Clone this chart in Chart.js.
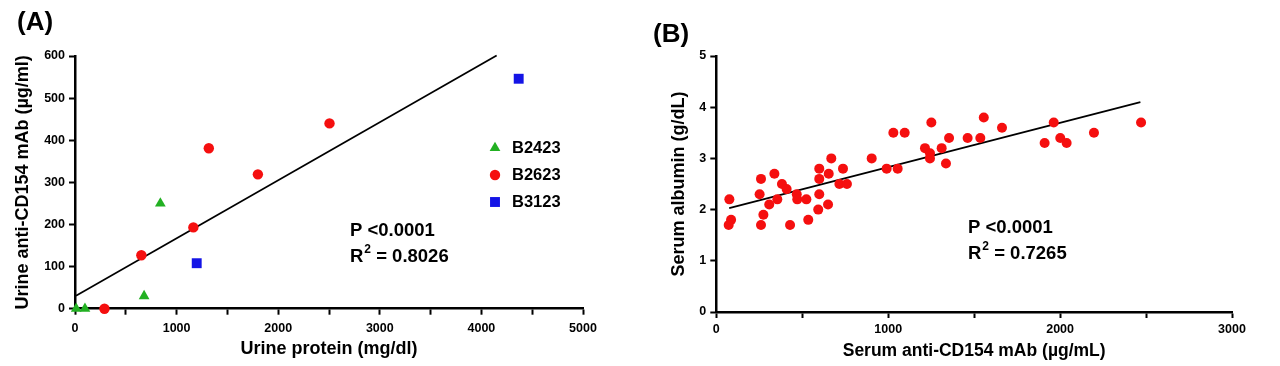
<!DOCTYPE html>
<html lang="en">
<head>
<meta charset="UTF-8">
<title>anti-CD154 scatter</title>
<script src="https://cdn.jsdelivr.net/npm/chart.js"></script>
<style>
  body { margin: 0; background: #fff; }
  .panel { position: absolute; top: 0; width: 640px; height: 366px; }
  #wrapA { left: 0; }
  #wrapB { left: 640px; }
</style>
</head>
<body>
<div class="panel" id="wrapA"><canvas id="chartA" width="640" height="366"></canvas></div>
<div class="panel" id="wrapB"><canvas id="chartB" width="640" height="366"></canvas></div>
<script>
// ---- panel A data (urine protein vs urine mAb) ----
const aGreenX = [12, 98, 680, 840];
const aGreenY = [0, 0, 30, 250];
const aRedX = [290, 653, 1165, 1317, 1800, 2505];
const aRedY = [0, 127, 193, 381, 319, 440];
const aBlueX = [1198, 4367];
const aBlueY = [108, 546];
const aFitX = [10, 4150];
const aFitY = [31, 601];
const aXTicks = [0, 1000, 2000, 3000, 4000, 5000];

// ---- panel B data (serum mAb vs albumin) ----
const bX = [76, 86, 72, 260, 252, 274, 260, 338, 382, 409, 355, 308, 429, 468, 471, 524, 535,
            599, 599, 599, 593, 650, 654, 669, 737, 716, 760,
            904, 991, 1055, 1030, 1096, 1251, 1214, 1243, 1243, 1311, 1336, 1354, 1462, 1536, 1556, 1662,
            1963, 1910, 2001, 2038, 2197, 2471];
const bY = [2.2, 1.8, 1.7, 2.6, 2.3, 1.9, 1.7, 2.7, 2.5, 2.4, 2.2, 2.1, 1.7, 2.3, 2.2, 2.2, 1.8,
            2.8, 2.6, 2.3, 2.0, 2.1, 2.7, 3.0, 2.8, 2.5, 2.5,
            3.0, 2.8, 2.8, 3.5, 3.5, 3.7, 3.2, 3.1, 3.0, 3.2, 2.9, 3.4, 3.4, 3.4, 3.8, 3.6,
            3.7, 3.3, 3.4, 3.3, 3.5, 3.7];
const bFitX = [75, 2467];
const bFitY = [2.03, 4.10];
const bXTicks = [0, 1000, 2000, 3000];

const RED = '#f50f0f';
const GREEN = '#22b022';
const BLUE = '#1414e6';
const FONT = "'Liberation Sans', Arial, sans-serif";

function pts(xs, ys) {
    return xs.map(function (x, i) { return { x: x, y: ys[i] }; });
}

function axisX(min, max, step, labels, height, tickPad, title, size, pad) {
    return {
        type: 'linear', min: min, max: max,
        afterFit: function (s) { s.height = height; },
        ticks: {
            stepSize: step, color: '#000', padding: tickPad, maxRotation: 0, autoSkip: false,
            font: { family: FONT, size: 12.5, weight: 'bold' },
            callback: function (v) { return labels.indexOf(v) >= 0 ? v : ''; }
        },
        grid: { drawOnChartArea: false, tickLength: 6, tickWidth: 2, tickColor: '#000' },
        border: { color: '#000', width: 2.5 },
        title: { display: true, text: title, color: '#000', padding: { top: 0, bottom: pad },
                 font: { family: FONT, size: size, weight: 'bold' } }
    };
}

function axisY(min, max, step, width, title, size, pad) {
    return {
        type: 'linear', min: min, max: max,
        afterFit: function (s) { s.width = width; },
        ticks: {
            stepSize: step, color: '#000', padding: 4,
            font: { family: FONT, size: 12.5, weight: 'bold' }
        },
        grid: { drawOnChartArea: false, tickLength: 6, tickWidth: 2, tickColor: '#000' },
        border: { color: '#000', width: 2.5 },
        title: { display: true, text: title, color: '#000', padding: { top: pad, bottom: 0 },
                 font: { family: FONT, size: size, weight: 'bold' } }
    };
}

// texts drawn on top: panel letter, stats, legend
const textPlugin = {
    id: 'texts',
    afterDraw: function (chart, args, opts) {
        const ctx = chart.ctx;
        ctx.save();
        ctx.fillStyle = '#000';
        ctx.textBaseline = 'middle';
        ctx.textAlign = 'left';
        ctx.font = 'bold 26px ' + FONT;
        ctx.fillText(opts.letter, opts.letterX, opts.letterY);

        ctx.font = 'bold 18.5px ' + FONT;
        ctx.fillText('P <0.0001', opts.statX, opts.statY);
        ctx.fillText('R', opts.statX, opts.statY + 26);
        const rw = ctx.measureText('R').width;
        ctx.font = 'bold 12px ' + FONT;
        ctx.fillText('2', opts.statX + rw + 1, opts.statY + 19);
        const sw = ctx.measureText('2').width;
        ctx.font = 'bold 18.5px ' + FONT;
        ctx.fillText(' = ' + opts.r2, opts.statX + rw + sw + 1, opts.statY + 26);

        if (opts.legend) {
            ctx.font = 'bold 16.5px ' + FONT;
            const lg = opts.legend;
            let row = 0;
            chart.data.datasets.forEach(function (ds) {
                if (!ds.label) return;
                const y = lg.y + row * lg.gap;
                ctx.fillStyle = ds.backgroundColor;
                ctx.strokeStyle = ds.backgroundColor;
                Chart.helpers.drawPoint(ctx, { pointStyle: ds.pointStyle, radius: ds.pointRadius, borderWidth: 0 }, lg.x, y);
                ctx.fillStyle = '#000';
                ctx.fillText(ds.label, lg.x + 17, y);
                row++;
            });
        }
        ctx.restore();
    }
};

function scatterSet(label, data, color, style, r) {
    return {
        type: 'scatter', label: label, data: data, backgroundColor: color, borderColor: color,
        borderWidth: 0, pointStyle: style, pointRadius: r, pointHoverRadius: r, clip: false, order: 0
    };
}

function fitSet(data) {
    return {
        type: 'line', label: '', data: data, borderColor: '#000', borderWidth: 1.7,
        pointRadius: 0, fill: false, clip: false, order: 10
    };
}

new Chart(document.getElementById('chartA'), {
    type: 'scatter',
    data: {
        datasets: [
            scatterSet('B2423', pts(aGreenX, aGreenY), GREEN, 'triangle', 6.2),
            scatterSet('B2623', pts(aRedX, aRedY), RED, 'circle', 5.2),
            scatterSet('B3123', pts(aBlueX, aBlueY), BLUE, 'rect', 7),
            fitSet(pts(aFitX, aFitY))
        ]
    },
    options: {
        responsive: false, animation: false,
        layout: { padding: { left: 0, right: 57, top: 56, bottom: 0 } },
        scales: {
            x: axisX(0, 5000, 500, aXTicks, 57.3, 6, 'Urine protein (mg/dl)', 18, 6),
            y: axisY(0, 600, 100, 75, 'Urine anti-CD154 mAb (µg/ml)', 18, 12)
        },
        plugins: {
            legend: { display: false }, tooltip: { enabled: false },
            texts: {
                letter: '(A)', letterX: 17, letterY: 23,
                statX: 350, statY: 231, r2: '0.8026',
                legend: { x: 495, y: 148, gap: 27 }
            }
        }
    },
    plugins: [textPlugin]
});

new Chart(document.getElementById('chartB'), {
    type: 'scatter',
    data: {
        datasets: [
            scatterSet('', pts(bX, bY), RED, 'circle', 5),
            fitSet(pts(bFitX, bFitY))
        ]
    },
    options: {
        responsive: false, animation: false,
        layout: { padding: { left: 0, right: 48, top: 56, bottom: 0 } },
        scales: {
            x: axisX(0, 3000, 500, bXTicks, 54, 4, 'Serum anti-CD154 mAb (µg/mL)', 17.5, 4),
            y: axisY(0, 5, 1, 76.3, 'Serum albumin (g/dL)', 18, 28.5)
        },
        plugins: {
            legend: { display: false }, tooltip: { enabled: false },
            texts: {
                letter: '(B)', letterX: 13, letterY: 35,
                statX: 328, statY: 228, r2: '0.7265'
            }
        }
    },
    plugins: [textPlugin]
});
</script>
</body>
</html>
